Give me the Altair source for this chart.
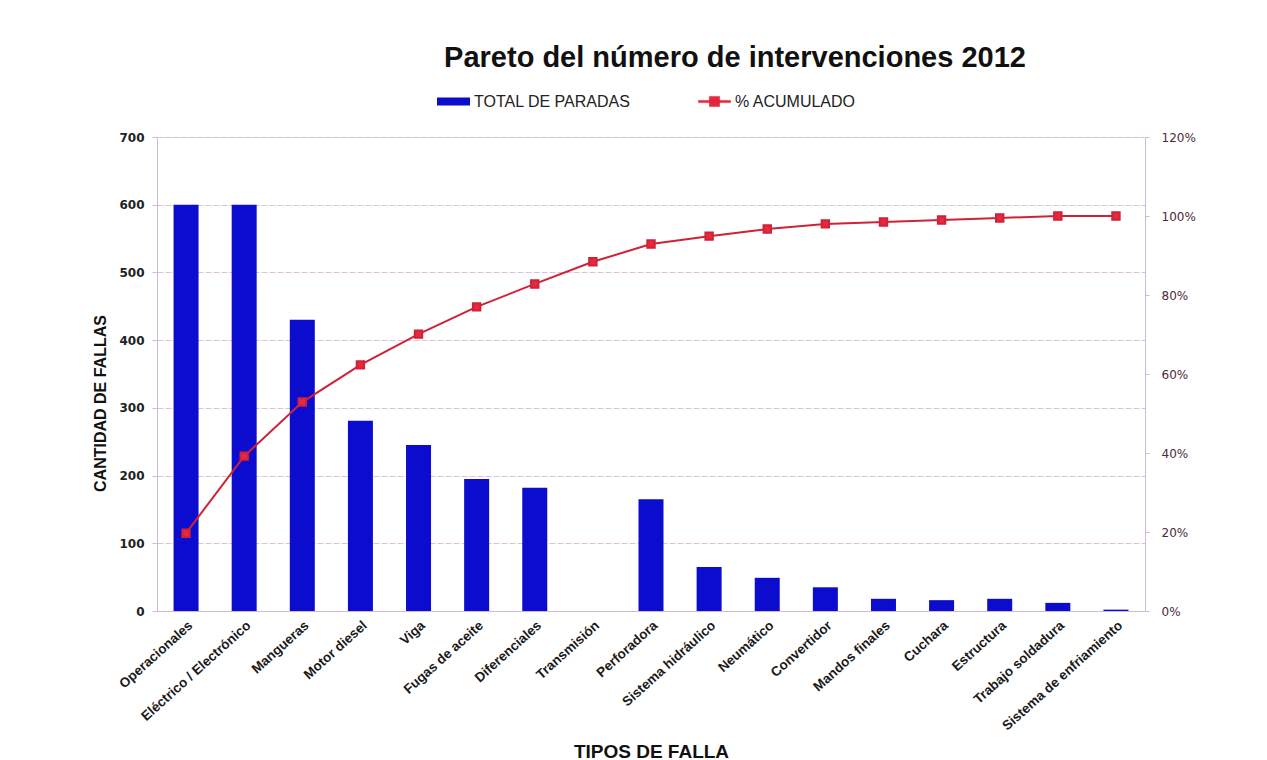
import altair as alt
import pandas as pd

categorias = ["Operacionales", "Eléctrico / Electrónico", "Mangueras", "Motor diesel", "Viga",
              "Fugas de aceite", "Diferenciales", "Transmisión", "Perforadora", "Sistema hidráulico",
              "Neumático", "Convertidor", "Mandos finales", "Cuchara", "Estructura",
              "Trabajo soldadura", "Sistema de enfriamiento"]
total_paradas = [600, 600, 430, 281, 245, 195, 182, 0, 165, 65, 49, 35, 18, 16, 18, 12, 2]
pct_acumulado = [0.197, 0.392, 0.529, 0.623, 0.701, 0.770, 0.828, 0.884, 0.929, 0.949,
                 0.967, 0.980, 0.985, 0.990, 0.995, 1.0, 1.0]

df = pd.DataFrame({
    "cat": categorias,
    "total": total_paradas,
    "pct": pct_acumulado,
    "s1": ["TOTAL  DE PARADAS"] * len(categorias),
    "s2": ["% ACUMULADO"] * len(categorias),
})

BLUE = "#0C0CCF"
RED = "#CF2238"
GRID = "#DCC0DC"
AXIS = "#CDB8E2"

x = alt.X("cat:N", sort=categorias, title="TIPOS DE FALLA",
          scale=alt.Scale(paddingInner=0, paddingOuter=0),
          axis=alt.Axis(labelAngle=-42, labelFont="Liberation Sans", labelFontWeight="bold",
                        labelFontSize=13.5, labelColor="#1a1a1a", labelAlign="right",
                        labelBaseline="top", labelPadding=7,
                        domainColor=AXIS, ticks=False,
                        titleFont="Liberation Sans", titleFontSize=19, titleFontWeight="bold",
                        titleColor="#111111", titleY=140, titleBaseline="middle"))

bars = alt.Chart(df).mark_bar(size=25).encode(
    x=x,
    y=alt.Y("total:Q", title="CANTIDAD DE FALLAS",
            scale=alt.Scale(domain=[0, 700]),
            axis=alt.Axis(values=[0, 100, 200, 300, 400, 500, 600, 700],
                          labelFont="DejaVu Sans", labelFontWeight="bold", labelFontSize=12,
                          labelColor="#222222", labelPadding=8, tickSize=5, tickColor=AXIS,
                          domainColor=AXIS, gridColor=GRID, gridDash=[6, 2],
                          titleFont="Liberation Sans", titleFontSize=16, titleFontWeight="bold",
                          titleColor="#111111", titleX=-57, titleY=266, titleAngle=-90,
                          titleBaseline="middle")),
    fill=alt.Fill("s1:N", scale=alt.Scale(range=[BLUE]),
                  legend=alt.Legend(title=None, orient="none", legendX=280, legendY=-52,
                                    symbolType="M-1,-0.24H1V0.24H-1Z", symbolSize=1089,
                                    symbolStrokeWidth=0, labelFont="Liberation Sans",
                                    labelFontSize=16, labelColor="#222222", labelOffset=4,
                                    labelLimit=400)),
)

line = alt.Chart(df).mark_line(color=RED, strokeWidth=2,
                               point=alt.OverlayMarkDef(shape="square", size=55, filled=True,
                                                        color="#E8283F")).encode(
    x=x,
    y=alt.Y("pct:Q", title=None,
            scale=alt.Scale(domain=[0, 1.2]),
            axis=alt.Axis(values=[0, 0.2, 0.4, 0.6, 0.8, 1.0, 1.2], format=".0%", orient="right",
                          labelFont="DejaVu Sans", labelFontSize=12, labelColor="#4a2a3a",
                          labelPadding=12, tickSize=4, tickColor=AXIS, domainColor=AXIS,
                          grid=False)),
    stroke=alt.Stroke("s2:N", scale=alt.Scale(range=[RED]),
                      legend=alt.Legend(title=None, orient="none", legendX=541, legendY=-52,
                                        symbolType="M-1,-0.07H1V0.07H-1Z M-0.32,-0.32H0.32V0.32H-0.32Z",
                                        symbolSize=1024, symbolStrokeWidth=0.5,
                                        symbolFillColor=RED, labelFont="Liberation Sans",
                                        labelFontSize=16, labelColor="#222222", labelOffset=4,
                                        labelLimit=400)),
)

chart = alt.layer(bars, line).resolve_scale(y="independent", fill="independent",
                                            stroke="independent").properties(
    width=988, height=474,
    title=alt.Title("Pareto del número de intervenciones 2012", font="Liberation Sans",
                    fontSize=29, fontWeight="bold", color="#111111", anchor="middle",
                    dx=84, offset=12),
    autosize=alt.AutoSizeParams(type="none"),
    padding={"left": 157, "top": 137, "right": 122, "bottom": 149},
).configure_view(stroke=None).configure(background="white")

chart.save("out.html", embed_options={"renderer": "svg", "actions": False})
